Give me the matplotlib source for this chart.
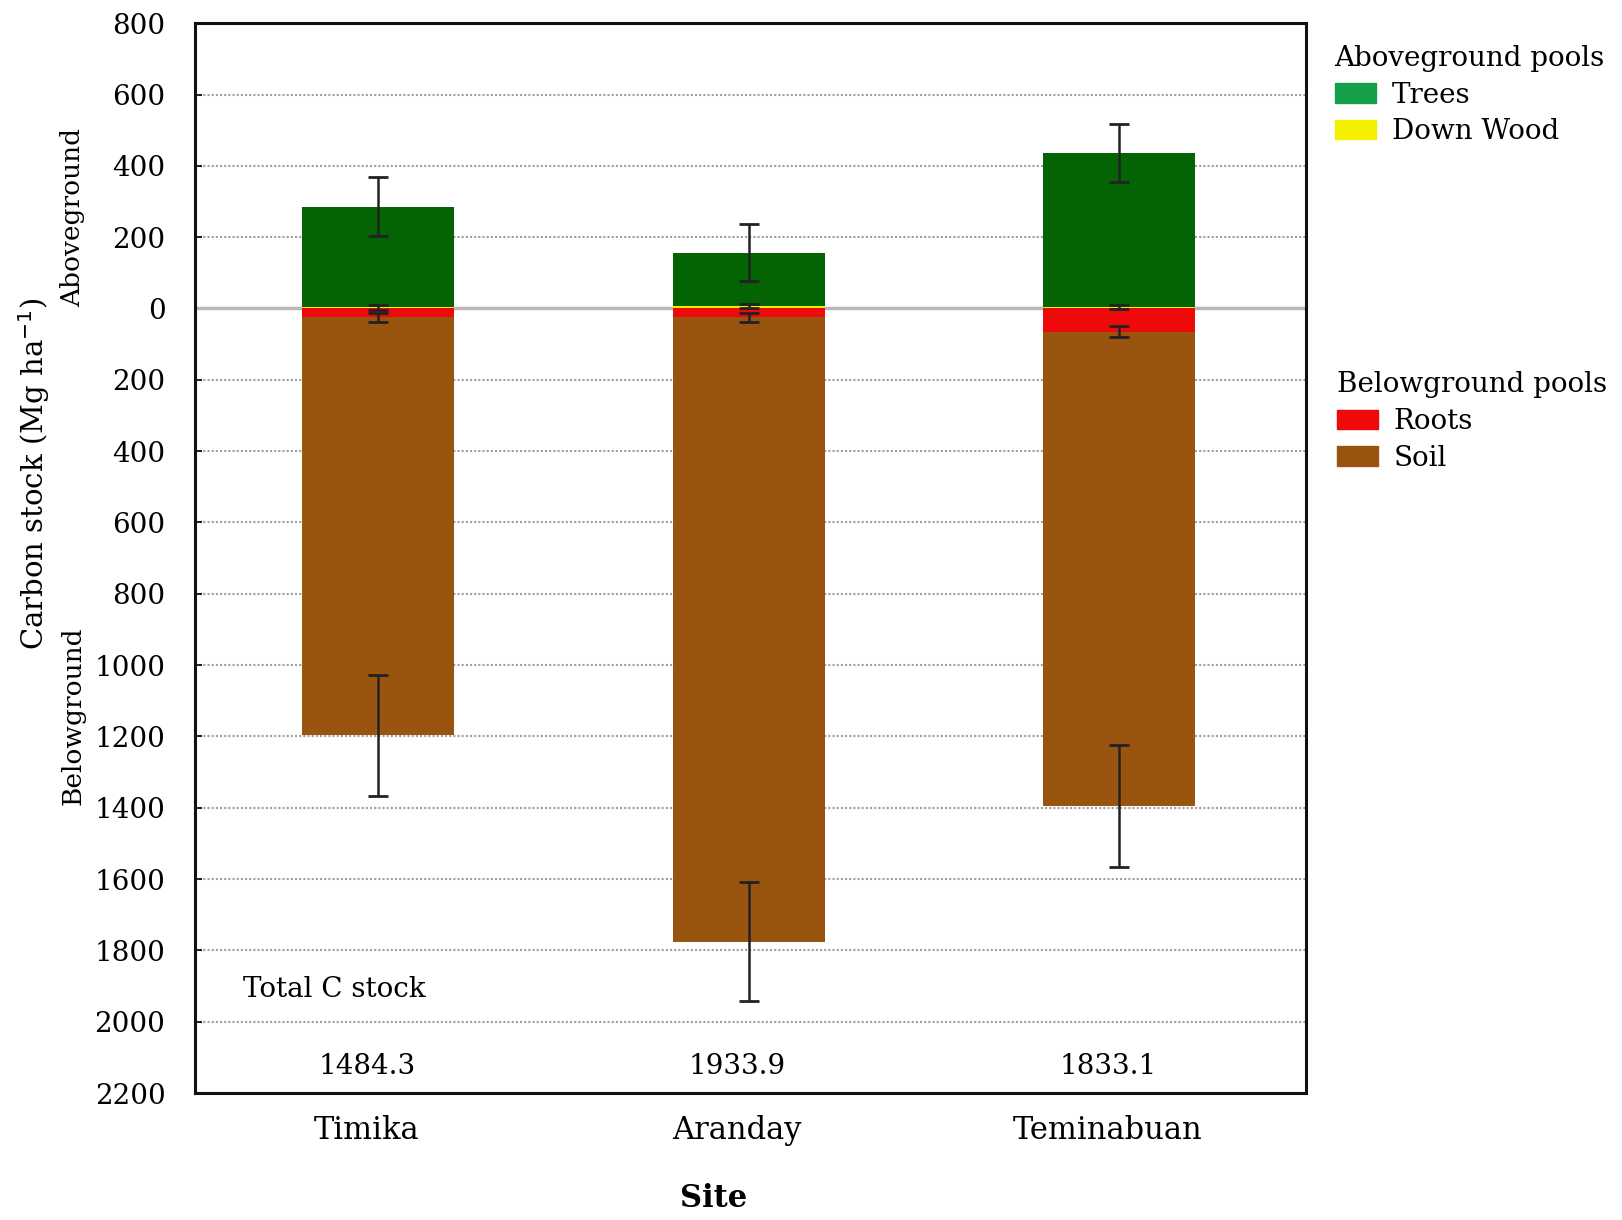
import matplotlib
matplotlib.use("Agg")
import matplotlib.pyplot as plt
import matplotlib.transforms as mtransforms
from matplotlib.patches import Patch
import numpy as np

plt.rcParams['font.family'] = ['DejaVu Serif']

# carbon pools per site (Mg ha-1)
sites = ['Timika', 'Aranday', 'Teminabuan']
trees = [282, 149, 432]
down_wood = [3, 8, 4]
roots = [25, 25, 65]
soil = [1172, 1750, 1329]
trees_err = [83, 80, 82]
dw_err = [6, 6, 6]
roots_err = [13, 13, 16]
soil_err = [170, 168, 171]
totals = ['1484.3', '1933.9', '1833.1']

c_trees = '#046404'
c_dw = '#f2f000'
c_roots = '#ee0a0a'
c_soil = '#99550f'

x = np.arange(len(sites))
w = 0.41
dw = np.array(down_wood)
tr = np.array(trees)
ro = np.array(roots)
so = np.array(soil)

fig = plt.figure(figsize=(16.22, 12.2), dpi=100)
ax = fig.add_axes([0.12, 0.104, 0.685, 0.877])

ax.set_axisbelow(True)
ax.yaxis.grid(True, linestyle=(0, (1, 1)), color='#a0a0a0', linewidth=1.5)
ax.axhline(0, color='#b8b8b8', linewidth=2.5, zorder=1)

# aboveground stacked upward, belowground stacked downward
ax.bar(x, dw, w, color=c_dw, zorder=2)
ax.bar(x, tr, w, bottom=dw, color=c_trees, zorder=2)
ax.bar(x, -ro, w, color=c_roots, zorder=2)
ax.bar(x, -so, w, bottom=-ro, color=c_soil, zorder=2)

ekw = dict(fmt='none', ecolor='#222222', elinewidth=1.8, capsize=7, capthick=2, zorder=3)
ax.errorbar(x, dw + tr, yerr=trees_err, **ekw)
ax.errorbar(x, dw, yerr=dw_err, **ekw)
ax.errorbar(x, -ro, yerr=roots_err, **ekw)
ax.errorbar(x, -(ro + so), yerr=soil_err, **ekw)

ax.set_xlim(-0.495, 2.503)
ax.set_ylim(-2200, 800)
yt = np.arange(-2200, 801, 200)
ax.set_yticks(yt)
ax.set_yticklabels([str(abs(v)) for v in yt], fontsize=20)
ax.set_xticks(x)
ax.set_xticklabels(sites, fontsize=22)
ax.tick_params(axis='x', length=0, pad=16)
ax.tick_params(axis='y', direction='in', length=5, width=1.2, pad=21)
shift = mtransforms.ScaledTranslation(-12 / 100, 0, fig.dpi_scale_trans)
for lab in ax.get_xticklabels():
    lab.set_transform(lab.get_transform() + shift)
for s in ax.spines.values():
    s.set_linewidth(2.2)
    s.set_color('#111111')

ax.text(-0.365, -1910, 'Total C stock', fontsize=20, va='center', ha='left')
for xi, t in zip(x, totals):
    ax.text(xi - 0.03, -2125, t, fontsize=20, va='center', ha='center')

fig.text(0.44, 0.018, 'Site', fontsize=22, fontweight='bold', ha='center', va='center')
fig.text(0.021, 0.612, 'Carbon stock (Mg ha$^{-1}$)', rotation=90, fontsize=21,
         ha='center', va='center')
fig.text(0.045, 0.822, 'Aboveground', rotation=90, fontsize=19,
         ha='center', va='center')
fig.text(0.045, 0.413, 'Belowground', rotation=90, fontsize=19,
         ha='center', va='center')

# legends
above = [Patch(color='#14a048', label='Trees'), Patch(color=c_dw, label='Down Wood')]
below = [Patch(color=c_roots, label='Roots'), Patch(color=c_soil, label='Soil')]
lkw = dict(frameon=False, fontsize=20, title_fontsize=20, alignment='left',
           handlelength=1.5, handleheight=0.7, labelspacing=0.35, handletextpad=0.55,
           borderaxespad=0)
leg1 = ax.legend(handles=above, title='Aboveground pools', loc='upper left',
                 bbox_to_anchor=(1.016, 0.99), **lkw)
ax.add_artist(leg1)
leg2 = ax.legend(handles=below, title='Belowground pools', loc='upper left',
                 bbox_to_anchor=(1.018, 0.685), **lkw)

fig.savefig('out.png', dpi=100)
